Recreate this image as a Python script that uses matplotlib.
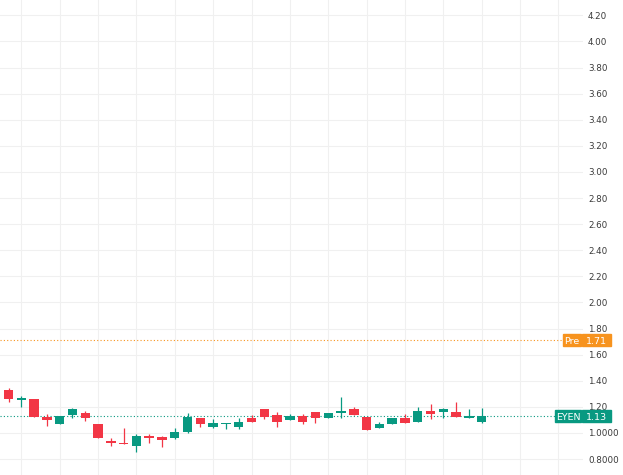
import matplotlib
matplotlib.use("Agg")
import matplotlib.pyplot as plt
import matplotlib.transforms as mtransforms
from matplotlib.patches import Rectangle
import numpy as np

# ---- data ----
opens = [1.36, 1.332, 1.25, 1.26, 1.123, 1.069, 1.138, 1.151, 1.069, 0.939,
         0.926, 0.90, 0.97, 0.97, 0.959, 1.005, 1.113, 1.046, 1.067, 1.044,
         1.113, 1.182, 1.138, 1.097, 1.128, 1.159, 1.117, 1.151, 1.182, 1.12,
         1.036, 1.069, 1.117, 1.087, 1.169, 1.159, 1.159, 1.115, 1.087]
highs = [1.37, 1.345, 1.286, 1.26, 1.143, 1.128, 1.194, 1.169, 1.069, 0.959,
         1.04, 0.99, 0.995, 0.975, 1.04, 1.151, 1.113, 1.107, 1.075, 1.113,
         1.138, 1.182, 1.159, 1.146, 1.148, 1.16, 1.151, 1.274, 1.197, 1.12,
         1.082, 1.113, 1.143, 1.197, 1.222, 1.19, 1.235, 1.182, 1.19]
lows = [1.32, 1.237, 1.20, 1.125, 1.056, 1.065, 1.113, 1.094, 0.959, 0.903,
        0.913, 0.852, 0.92, 0.895, 0.955, 1.0, 1.048, 1.04, 1.03, 1.028,
        1.087, 1.105, 1.048, 1.097, 1.071, 1.074, 1.117, 1.113, 1.138, 1.023,
        1.036, 1.069, 1.074, 1.087, 1.105, 1.117, 1.125, 1.115, 1.079]
closes = [1.325, 1.26, 1.266, 1.125, 1.10, 1.128, 1.184, 1.113, 0.959, 0.926,
          0.913, 0.975, 0.965, 0.944, 1.008, 1.12, 1.069, 1.074, 1.074, 1.087,
          1.087, 1.125, 1.087, 1.128, 1.087, 1.117, 1.151, 1.171, 1.138, 1.023,
          1.069, 1.113, 1.074, 1.171, 1.146, 1.182, 1.125, 1.128, 1.13]

last_price = 1.13
pre_price = 1.71
symbol = "EYEN"
ytick_vals = [0.8, 1.0, 1.2, 1.4, 1.6, 1.8, 2.0, 2.2, 2.4, 2.6, 2.8, 3.0,
              3.2, 3.4, 3.6, 3.8, 4.0, 4.2]
ytick_labels = ["0.8000", "1.0000", "1.20", "1.40", "1.60", "1.80", "2.00",
                "2.20", "2.40", "2.60", "2.80", "3.00", "3.20", "3.40",
                "3.60", "3.80", "4.00", "4.20"]

UP = "#089981"
DOWN = "#f23645"
ORANGE = "#f7931e"
GRID = "#f0f0f0"

W, H = 623, 475
fig = plt.figure(figsize=(W / 100, H / 100), dpi=100)
ax = fig.add_axes([0, 0, 583 / W, 1])

x = np.arange(len(opens))
o = np.array(opens); c = np.array(closes)
hi = np.array(highs); lo = np.array(lows)
up = c >= o
colors = np.where(up, UP, DOWN)
bottoms = np.minimum(o, c)
heights = np.maximum(np.abs(c - o), 0.012)

ax.vlines(x, lo, hi, colors=colors, linewidth=0.9, zorder=2)
ax.bar(x, heights, bottom=bottoms, width=0.74, color=colors, linewidth=0, zorder=3)

ax.set_xlim(0.335, 45.92)
ax.set_ylim(0.678, 4.318)

ax.set_xticks(np.arange(2, 46, 3))
ax.set_yticks(ytick_vals)
ax.set_yticklabels(ytick_labels)
ax.yaxis.tick_right()
ax.tick_params(axis="y", length=0, pad=3.6, labelsize=6.3, labelcolor="#3a3a3a")
ax.tick_params(axis="x", length=0, labelbottom=False)
for lab in ax.get_yticklabels():
    lab.set_horizontalalignment("left")
ax.grid(True, color=GRID, linewidth=0.8, zorder=0)
ax.set_axisbelow(True)
for s in ax.spines.values():
    s.set_visible(False)

# price lines
ax.axhline(last_price, color=UP, linestyle=(0, (1, 2)), linewidth=0.8, zorder=1)
ax.axhline(pre_price, color=ORANGE, linestyle=(0, (1, 2)), linewidth=0.8, zorder=1)

# labels on price scale
trans = mtransforms.blended_transform_factory(fig.transFigure, ax.transData)
box_h = 12 / 130.5

def price_label(name, price, color, x0):
    x_split = 582 / W
    x_end = 611 / W
    r1 = Rectangle((x0 / W, price - box_h / 2), x_split - x0 / W - 1 / W, box_h,
                   transform=trans, color=color, clip_on=False, zorder=10)
    r2 = Rectangle((x_split, price - box_h / 2), x_end - x_split, box_h,
                   transform=trans, color=color, clip_on=False, zorder=10)
    ax.add_patch(r1); ax.add_patch(r2)
    ax.text((x0 / W + x_split - 1 / W) / 2, price, name, transform=trans, color="white",
            fontsize=6.8, ha="center", va="center_baseline", zorder=11, clip_on=False)
    ax.text((x_split + x_end) / 2, price, f"{price:.2f}", transform=trans, color="white",
            fontsize=6.8, ha="center", va="center_baseline", zorder=11, clip_on=False)

price_label("Pre", pre_price, ORANGE, 563)
price_label(symbol, last_price, UP, 555)

fig.savefig("out.png", dpi=100)
